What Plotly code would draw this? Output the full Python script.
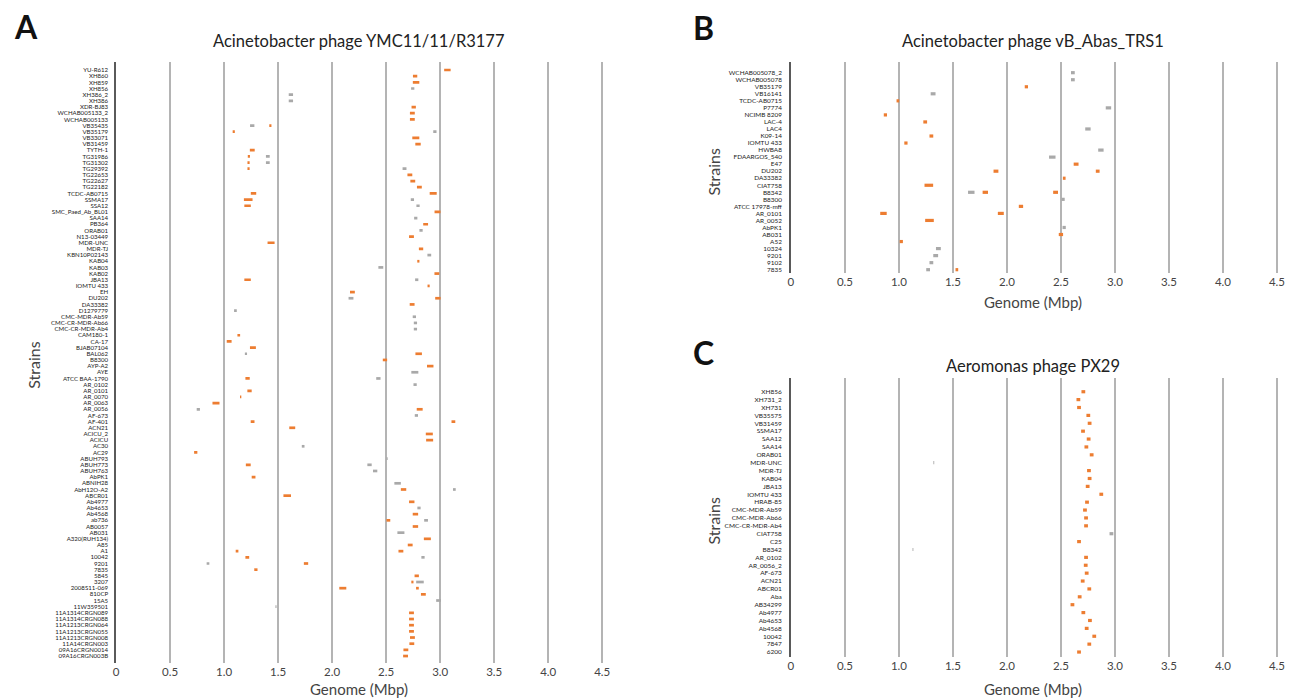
import plotly.graph_objects as go

W, H = 1301, 700
ORANGE = "#ED7D31"
GREY = "#A9A9A9"
FONT = "Lato"
NARROW = "Liberation Sans Narrow, Lato"

x_tick_vals = [0, 0.5, 1.0, 1.5, 2.0, 2.5, 3.0, 3.5, 4.0, 4.5]
x_tick_text = ["0", "0.5", "1.0", "1.5", "2.0", "2.5", "3.0", "3.5", "4.0", "4.5"]

# ---------- Panel A: Acinetobacter phage YMC11/11/R3177 ----------
a_title = "Acinetobacter phage YMC11/11/R3177"
a_strains = [
    "YU-R612", "XH860", "XH859", "XH856", "XH386_2", "XH386", "XDR-BJ83",
    "WCHAB005133_2", "WCHAB005133", "VB35435", "VB35179", "VB33071", "VB31459",
    "TYTH-1", "TG31986", "TG31302", "TG29392", "TG22653", "TG22627", "TG22182",
    "TCDC-AB0715", "SSMA17", "SSA12", "SMC_Paed_Ab_BL01", "SAA14", "PB364",
    "ORAB01", "N13-03449", "MDR-UNC", "MDR-TJ", "KBN10P02143", "KAB04", "KAB03",
    "KAB02", "JBA13", "IOMTU 433", "EH", "DU202", "DA33382", "D1279779",
    "CMC-MDR-Ab59", "CMC-CR-MDR-Ab66", "CMC-CR-MDR-Ab4", "CAM180-1", "CA-17",
    "BJAB07104", "BAL062", "B8300", "AYP-A2", "AYE", "ATCC BAA-1790", "AR_0102",
    "AR_0101", "AR_0070", "AR_0063", "AR_0056", "AF-673", "AF-401", "ACN21",
    "ACICU_2", "ACICU", "AC30", "AC29", "ABUH793", "ABUH773", "ABUH763", "AbPK1",
    "ABNIH28", "AbH12O-A2", "ABCR01", "Ab4977", "Ab4653", "Ab4568", "ab736",
    "AB0057", "AB031", "A320(RUH134)", "A85", "A1", "10042", "9201", "7835",
    "5845", "3207", "2008S11-069", "810CP", "15A5", "11W359501",
    "11A1314CRGN089", "11A1314CRGN088", "11A1213CRGN064", "11A1213CRGN055",
    "11A1213CRGN008", "11A14CRGN003", "09A16CRGN0014", "09A16CRGN003B",
]
# matched regions: strain, start (Mbp), end (Mbp)
a_orange = [
    ("YU-R612", 3.037, 3.097), ("XH860", 2.748, 2.788), ("XH859", 2.747, 2.807),
    ("XDR-BJ83", 2.735, 2.775), ("WCHAB005133_2", 2.720, 2.765),
    ("WCHAB005133", 2.720, 2.765), ("VB35435", 1.418, 1.438),
    ("VB35179", 1.079, 1.099), ("VB33071", 2.742, 2.807), ("VB31459", 2.770, 2.820),
    ("TYTH-1", 1.238, 1.283), ("TG31986", 1.219, 1.239), ("TG31302", 1.216, 1.236),
    ("TG29392", 1.216, 1.236), ("TG22653", 2.697, 2.742), ("TG22627", 2.724, 2.769),
    ("TG22182", 2.785, 2.830), ("TCDC-AB0715", 1.247, 1.297),
    ("TCDC-AB0715", 2.903, 2.968), ("SSMA17", 1.183, 1.263), ("SSA12", 1.187, 1.247),
    ("SMC_Paed_Ab_BL01", 2.948, 3.003), ("PB364", 2.843, 2.888),
    ("N13-03449", 2.712, 2.757), ("MDR-UNC", 1.402, 1.467), ("MDR-TJ", 2.803, 2.843),
    ("KAB04", 2.788, 2.808), ("KAB02", 2.947, 2.992), ("JBA13", 1.187, 1.247),
    ("IOMTU 433", 2.883, 2.903), ("EH", 2.165, 2.210), ("DU202", 2.954, 3.004),
    ("DA33382", 2.718, 2.763), ("CAM180-1", 1.123, 1.148), ("CA-17", 1.024, 1.069),
    ("BJAB07104", 1.239, 1.294), ("BAL062", 2.771, 2.831), ("B8300", 2.469, 2.509),
    ("AYP-A2", 2.878, 2.938), ("ATCC BAA-1790", 1.197, 1.237),
    ("AR_0101", 1.215, 1.255), ("AR_0070", 1.147, 1.159), ("AR_0063", 0.892, 0.957),
    ("AR_0056", 2.783, 2.838), ("AF-401", 1.246, 1.281), ("AF-401", 3.105, 3.140),
    ("ACN21", 1.603, 1.658), ("ACICU_2", 2.867, 2.932), ("ACICU", 2.870, 2.935),
    ("AC29", 0.722, 0.752), ("ABUH773", 1.201, 1.246), ("AbPK1", 1.255, 1.290),
    ("AbH12O-A2", 2.636, 2.686), ("ABCR01", 1.549, 1.619), ("Ab4977", 2.712, 2.762),
    ("Ab4568", 2.746, 2.796), ("ab736", 2.503, 2.538), ("AB0057", 2.746, 2.796),
    ("A320(RUH134)", 2.849, 2.914), ("A85", 2.700, 2.745), ("A1", 1.107, 1.132),
    ("A1", 2.614, 2.659), ("10042", 1.197, 1.232), ("9201", 1.738, 1.778),
    ("7835", 1.279, 1.309), ("5845", 2.763, 2.803), ("3207", 2.733, 2.753),
    ("2008S11-069", 2.066, 2.131), ("2008S11-069", 2.777, 2.802),
    ("810CP", 2.822, 2.867), ("11A1314CRGN089", 2.712, 2.757),
    ("11A1314CRGN088", 2.712, 2.757), ("11A1213CRGN064", 2.712, 2.757),
    ("11A1213CRGN055", 2.712, 2.757), ("11A1213CRGN008", 2.721, 2.766),
    ("11A14CRGN003", 2.715, 2.760), ("09A16CRGN0014", 2.660, 2.705),
    ("09A16CRGN003B", 2.657, 2.702),
]
a_grey = [
    ("XH856", 2.731, 2.761), ("XH386_2", 1.598, 1.638), ("XH386", 1.598, 1.638),
    ("VB35435", 1.240, 1.280), ("VB35179", 2.936, 2.966), ("TG31986", 1.387, 1.422),
    ("TG31302", 1.387, 1.422), ("TG29392", 2.652, 2.688), ("SSMA17", 2.728, 2.758),
    ("SSA12", 2.780, 2.810), ("SAA14", 2.759, 2.789), ("ORAB01", 2.808, 2.838),
    ("KBN10P02143", 2.882, 2.917), ("KAB03", 2.428, 2.473), ("JBA13", 2.768, 2.798),
    ("DU202", 2.152, 2.197), ("D1279779", 1.092, 1.117), ("CMC-MDR-Ab59", 2.746, 2.776),
    ("CMC-CR-MDR-Ab66", 2.756, 2.786), ("CMC-CR-MDR-Ab4", 2.756, 2.786),
    ("BAL062", 1.192, 1.212), ("AYE", 2.733, 2.798), ("ATCC BAA-1790", 2.408, 2.448),
    ("AR_0102", 2.753, 2.783), ("AR_0056", 0.746, 0.776), ("AF-673", 2.765, 2.795),
    ("AC30", 1.719, 1.744), ("ABUH793", 2.502, 2.514), ("ABUH773", 2.326, 2.366),
    ("ABUH763", 2.378, 2.418), ("ABNIH28", 2.576, 2.636), ("AbH12O-A2", 3.119, 3.144),
    ("Ab4653", 2.789, 2.819), ("ab736", 2.852, 2.887), ("AB031", 2.604, 2.669),
    ("10042", 2.826, 2.856), ("9201", 0.838, 0.863), ("3207", 2.778, 2.848),
    ("15A5", 2.963, 3.008), ("11W359501", 1.475, 1.485),
]

# ---------- Panel B: Acinetobacter phage vB_Abas_TRS1 ----------
b_title = "Acinetobacter phage vB_Abas_TRS1"
b_strains = [
    "WCHAB005078_2", "WCHAB005078", "VB35179", "VB16141", "TCDC-AB0715", "P7774",
    "NCIMB 8209", "LAC-4", "LAC4", "K09-14", "IOMTU 433", "HWBA8", "FDAARGOS_540",
    "E47", "DU202", "DA33382", "CIAT758", "B8342", "B8300", "ATCC 17978-mff",
    "AR_0101", "AR_0052", "AbPK1", "AB031", "A52", "10324", "9201", "9102", "7835",
]
b_orange = [
    ("VB35179", 2.165, 2.195), ("TCDC-AB0715", 0.978, 1.003), ("NCIMB 8209", 0.860, 0.890),
    ("LAC-4", 1.226, 1.261), ("K09-14", 1.283, 1.318), ("IOMTU 433", 1.050, 1.080),
    ("E47", 2.618, 2.663), ("DU202", 1.876, 1.921), ("DU202", 2.823, 2.858),
    ("DA33382", 2.518, 2.543), ("CIAT758", 1.237, 1.317), ("B8342", 1.775, 1.825),
    ("B8342", 2.428, 2.473), ("ATCC 17978-mff", 2.110, 2.150), ("AR_0101", 0.827, 0.887),
    ("AR_0101", 1.916, 1.971), ("AR_0052", 1.243, 1.323), ("AB031", 2.480, 2.520),
    ("A52", 1.007, 1.037), ("7835", 1.524, 1.549),
]
b_grey = [
    ("WCHAB005078_2", 2.593, 2.628), ("WCHAB005078", 2.593, 2.628),
    ("VB16141", 1.294, 1.339), ("P7774", 2.915, 2.965), ("LAC4", 2.725, 2.775),
    ("HWBA8", 2.845, 2.895), ("FDAARGOS_540", 2.390, 2.450), ("B8342", 1.640, 1.700),
    ("B8300", 2.505, 2.535), ("AbPK1", 2.515, 2.545), ("10324", 1.343, 1.388),
    ("9201", 1.318, 1.363), ("9102", 1.283, 1.318), ("7835", 1.253, 1.288),
]

# ---------- Panel C: Aeromonas phage PX29 ----------
c_title = "Aeromonas phage PX29"
c_strains = [
    "XH856", "XH731_2", "XH731", "VB35575", "VB31459", "SSMA17", "SAA12", "SAA14",
    "ORAB01", "MDR-UNC", "MDR-TJ", "KAB04", "JBA13", "IOMTU 433", "HRAB-85",
    "CMC-MDR-Ab59", "CMC-MDR-Ab66", "CMC-CR-MDR-Ab4", "CIAT758", "C25", "B8342",
    "AR_0102", "AR_0056_2", "AF-673", "ACN21", "ABCR01", "Aba", "AB34299",
    "Ab4977", "Ab4653", "Ab4568", "10042", "7847", "6200",
]
c_orange = [
    ("XH856", 2.690, 2.725), ("XH731_2", 2.644, 2.679), ("XH731", 2.650, 2.685),
    ("VB35575", 2.736, 2.771), ("VB31459", 2.748, 2.783), ("SSMA17", 2.687, 2.722),
    ("SAA12", 2.739, 2.774), ("SAA14", 2.718, 2.753), ("ORAB01", 2.767, 2.802),
    ("MDR-TJ", 2.742, 2.777), ("KAB04", 2.748, 2.783), ("JBA13", 2.730, 2.765),
    ("IOMTU 433", 2.856, 2.891), ("HRAB-85", 2.724, 2.759),
    ("CMC-MDR-Ab59", 2.705, 2.740), ("CMC-MDR-Ab66", 2.715, 2.750),
    ("CMC-CR-MDR-Ab4", 2.715, 2.750), ("C25", 2.650, 2.685), ("AR_0102", 2.715, 2.750),
    ("AR_0056_2", 2.712, 2.747), ("AF-673", 2.721, 2.756), ("ACN21", 2.684, 2.719),
    ("ABCR01", 2.745, 2.780), ("Aba", 2.656, 2.691), ("AB34299", 2.589, 2.624),
    ("Ab4977", 2.690, 2.725), ("Ab4653", 2.751, 2.786), ("Ab4568", 2.721, 2.756),
    ("10042", 2.791, 2.826), ("7847", 2.745, 2.780), ("6200", 2.650, 2.685),
]
c_grey = [
    ("MDR-UNC", 1.319, 1.327), ("CIAT758", 2.950, 2.985), ("B8342", 1.126, 1.134),
]


def segments(hits):
    xs, ys = [], []
    for strain, start, end in hits:
        xs += [start, end, None]
        ys += [strain, strain, None]
    return xs, ys


def px_x(p):
    return p / W


def px_y(p):
    return 1 - p / H


fig = go.Figure()

panels = [
    # axis suffix, strains, orange, grey, x-left px, top px, bottom px,
    # pad rows top/bottom, label font, label size, label standoff, mark width
    ("", a_strains, a_orange, a_grey, 114, 62, 663, 1.3, 1.13, FONT, 6.1, 5, 2.7),
    ("2", b_strains, b_orange, b_grey, 794, 62, 273, 1.52, 0.47, NARROW, 6.4, 6, 3.2),
    ("3", c_strains, c_orange, c_grey, 794, 378, 657, 1.74, 0.63, NARROW, 6.5, 6, 3.2),
]
PX_PER_MBP = 108.85
X_MAX = 4.51

for suf, strains, orange, grey, xl, yt, yb, pad_t, pad_b, lfont, lsize, stand, mw in panels:
    for hits, col in ((grey, GREY), (orange, ORANGE)):
        xs, ys = segments(hits)
        fig.add_trace(go.Scatter(
            x=xs, y=ys, mode="lines", line=dict(color=col, width=mw),
            xaxis="x" + suf, yaxis="y" + suf, showlegend=False, hoverinfo="skip",
        ))
    n = len(strains)
    fig.layout["xaxis" + suf] = dict(
        domain=[px_x(xl), px_x(xl + X_MAX * PX_PER_MBP)],
        range=[0, X_MAX], anchor="y" + suf,
        showgrid=True, gridcolor="#B4B4B4", gridwidth=1.6,
        zeroline=False, showline=False, ticks="",
        tickvals=x_tick_vals, ticktext=x_tick_text,
        tickfont=dict(family=FONT, size=11.5, color="#444"),
    )
    fig.layout["yaxis" + suf] = dict(
        domain=[px_y(yb), px_y(yt)], anchor="x" + suf,
        type="category", categoryorder="array", categoryarray=strains,
        tickmode="array", tickvals=strains, ticktext=strains,
        range=[n - 1 + pad_b, -pad_t],
        showgrid=False, zeroline=False, showline=True,
        linecolor="#5a5a5a", linewidth=1.5, ticks="",
        tickfont=dict(family=lfont, size=lsize, color="#222"),
        ticklabelstandoff=stand,
    )

annotations = []


def add_text(text, x, y, size, angle=0, bold=False, color="#222"):
    annotations.append(dict(
        text="<b>%s</b>" % text if bold else text, x=px_x(x), y=px_y(y),
        xref="paper", yref="paper", showarrow=False, textangle=angle,
        xanchor="center", yanchor="middle",
        font=dict(family=FONT, size=size, color=color),
    ))


# panel letters
add_text("A", 23, 26, 32, bold=True, color="#111")
add_text("B", 706, 27, 32, bold=True, color="#111")
add_text("C", 706, 352, 32, bold=True, color="#111")
# panel titles
add_text(a_title, 359, 41, 16.5)
add_text(b_title, 1038, 41, 16.5)
add_text(c_title, 1038, 366, 16.5)
# axis titles
add_text("Strains", 30, 365, 16, angle=-90, color="#444")
add_text("Strains", 716, 172, 16, angle=-90, color="#444")
add_text("Strains", 716, 521, 16, angle=-90, color="#444")
add_text("Genome (Mbp)", 359, 689, 15, color="#444")
add_text("Genome (Mbp)", 1038, 302, 15, color="#444")
add_text("Genome (Mbp)", 1038, 689, 15, color="#444")

fig.update_layout(
    width=W, height=H, margin=dict(l=0, r=0, t=0, b=0),
    paper_bgcolor="white", plot_bgcolor="white",
    annotations=annotations, showlegend=False,
)

fig.write_html("out.html")
